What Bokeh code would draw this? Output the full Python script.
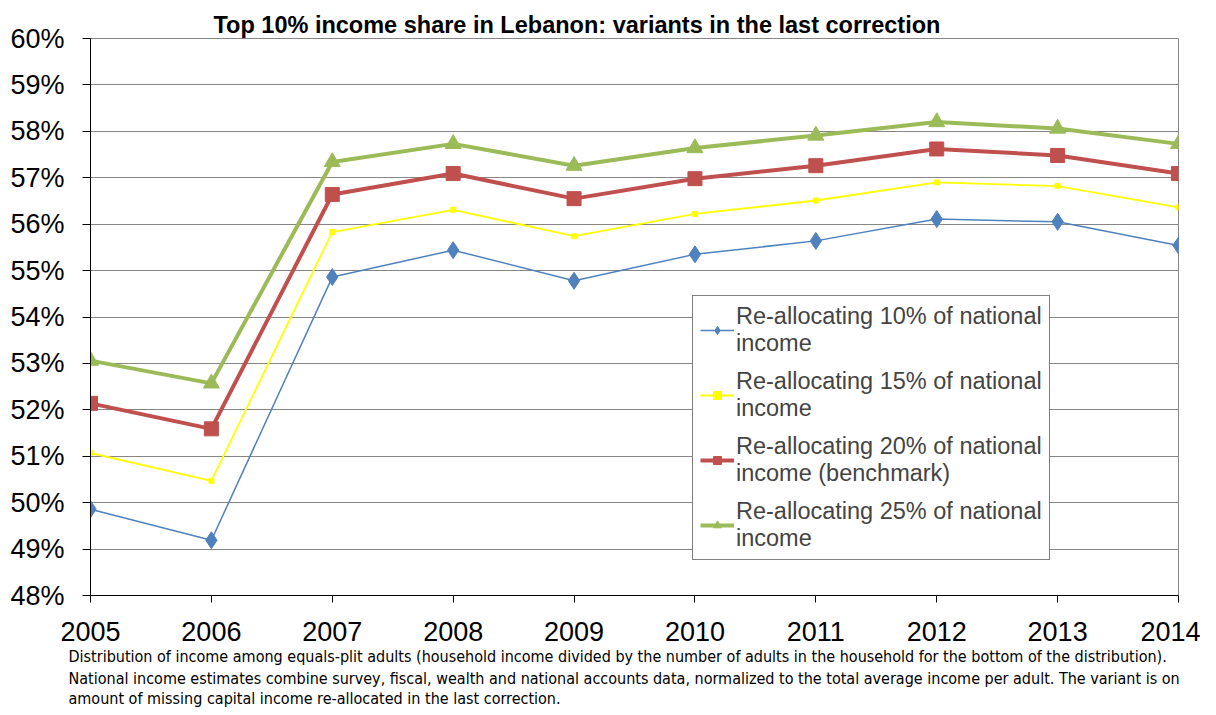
from bokeh.plotting import figure
from bokeh.models import (Range1d, FixedTicker, PrintfTickFormatter, Legend, LegendItem, Title)
from bokeh.embed import file_html
from bokeh.resources import INLINE

years = [2005, 2006, 2007, 2008, 2009, 2010, 2011, 2012, 2013, 2014]
share_10 = [49.86, 49.19, 54.86, 55.44, 54.78, 55.35, 55.64, 56.11, 56.05, 55.54]
share_15 = [51.07, 50.47, 55.83, 56.31, 55.74, 56.22, 56.51, 56.90, 56.82, 56.36]
share_20 = [52.14, 51.59, 56.64, 57.09, 56.55, 56.98, 57.26, 57.62, 57.48, 57.09]
share_25 = [53.06, 52.57, 57.34, 57.73, 57.26, 57.64, 57.91, 58.20, 58.06, 57.73]
y_ticks = list(range(48, 61))

title_text = "Top 10% income share in Lebanon: variants in the last correction"
labels = ["Re-allocating 10% of national\nincome",
          "Re-allocating 15% of national\nincome",
          "Re-allocating 20% of national\nincome (benchmark)",
          "Re-allocating 25% of national\nincome"]
notes = ["Distribution of income among equals-plit adults (household income divided by the number of adults in the household for the bottom of the distribution).",
         "National income estimates combine survey, fiscal, wealth and national accounts data, normalized to the total average income per adult. The variant is on",
         "amount of missing capital income re-allocated in the last correction."]

FONT = "Liberation Sans"
NOTE_FONT = "DejaVu Sans Condensed, Liberation Sans"
W, H = 1200, 707
BL, BR, BT, BB = 90, 22, 38, 111

p = figure(width=W, height=H, output_backend="svg", toolbar_location=None,
           x_range=Range1d(2005, 2014), y_range=Range1d(48, 60),
           min_border_left=BL, min_border_right=BR, min_border_top=BT, min_border_bottom=BB)
p.background_fill_color = "white"
p.border_fill_color = "white"
p.outline_line_color = "#868686"
p.outline_line_width = 1

p.xgrid.grid_line_color = None
p.ygrid.grid_line_color = "#868686"
p.ygrid.grid_line_width = 1

p.xaxis.ticker = FixedTicker(ticks=years)
p.yaxis.ticker = FixedTicker(ticks=y_ticks)
p.yaxis.formatter = PrintfTickFormatter(format="%d%%")
for ax in (p.xaxis, p.yaxis):
    ax.axis_line_color = "#000000"
    ax.axis_line_width = 1
    ax.major_tick_line_color = "#000000"
    ax.minor_tick_line_color = None
    ax.major_label_text_font = FONT
    ax.major_label_text_font_size = "27px"
    ax.major_label_text_color = "#000000"
p.xaxis.major_tick_out = 7
p.xaxis.major_tick_in = 0
p.xaxis.major_label_standoff = 19
p.yaxis.major_tick_out = 8
p.yaxis.major_tick_in = 0
p.yaxis.major_label_standoff = 18

r1 = p.line(years, share_10, line_color="#4F81BD", line_width=1.5)
m1 = p.scatter(years, share_10, marker="diamond", size=17, fill_color="#4F81BD", line_color="#4F81BD")
r2 = p.line(years, share_15, line_color="#FFFF00", line_width=1.8)
m2 = p.scatter(years, share_15, marker="square", size=5, fill_color="#FFFF00", line_color="#FFFF00")
r3 = p.line(years, share_20, line_color="#C0504D", line_width=4)
m3 = p.scatter(years, share_20, marker="square", size=14, fill_color="#C0504D", line_color="#C0504D")
r4 = p.line(years, share_25, line_color="#9BBB59", line_width=4)
m4 = p.scatter(years, share_25, marker="triangle", size=16, fill_color="#9BBB59", line_color="#9BBB59")

legend = Legend(items=[LegendItem(label=labels[0], renderers=[r1, m1]),
                       LegendItem(label=labels[1], renderers=[r2, m2]),
                       LegendItem(label=labels[2], renderers=[r3, m3]),
                       LegendItem(label=labels[3], renderers=[r4, m4])],
                location=(602, 35))
legend.label_text_font = FONT
legend.label_text_font_size = "23.5px"
legend.label_text_line_height = 1.1
legend.label_standoff = 2
legend.glyph_width = 34
legend.glyph_height = 20
legend.spacing = 11
legend.padding = 7
legend.margin = 0
legend.border_line_color = "#000000"
legend.border_line_width = 1
legend.background_fill_alpha = 1.0
p.add_layout(legend, "center")

p.add_layout(Title(text=title_text, align="left", offset=123, standoff=1,
                   text_font=FONT, text_font_size="23.5px", text_font_style="bold",
                   text_color="#000000"), "above")
for i, t in enumerate(notes):
    p.add_layout(Title(text=t, align="left", offset=-22, standoff=(3 if i == 0 else -1.5),
                       text_font=NOTE_FONT, text_font_size="16px", text_font_style="normal",
                       text_color="#000000"), "below")

open("out.html", "w").write(file_html(p, INLINE))
